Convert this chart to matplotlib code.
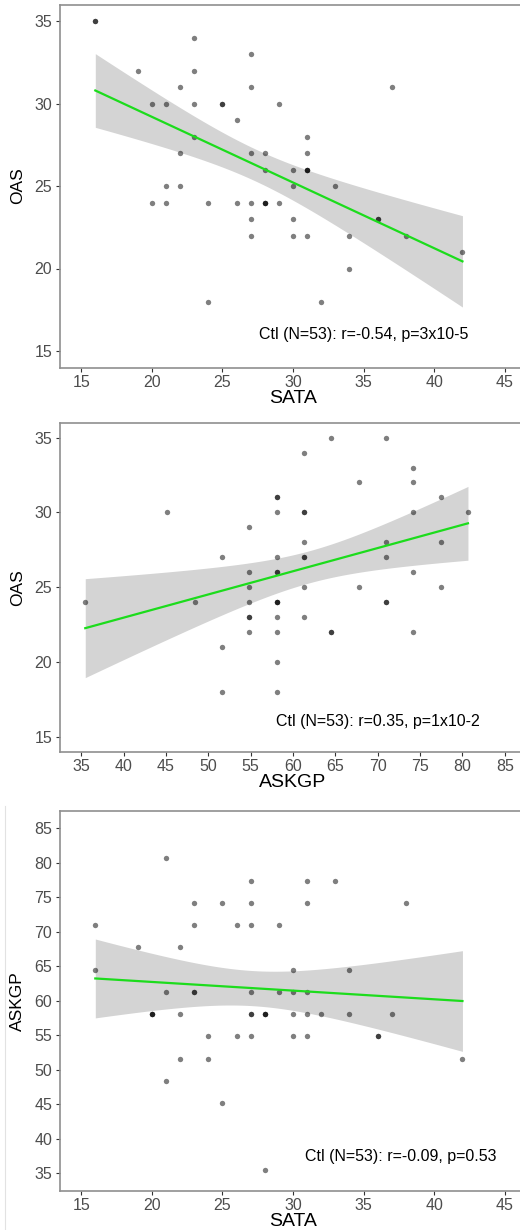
import numpy as np
import matplotlib
matplotlib.use('Agg')
import matplotlib.pyplot as plt
from matplotlib.lines import Line2D

plt.rcParams['font.family'] = ['Liberation Sans', 'DejaVu Sans']

# panel 1: SATA vs OAS
sata_1 = [16, 16, 19, 20, 21, 23, 25, 25, 29, 23, 27, 23, 22, 27, 37, 26,
          23, 31, 22, 27, 28, 31, 28, 30, 31, 31, 31, 21, 22, 30, 33,
          20, 21, 24, 26, 27, 28, 28, 28, 29, 27, 30, 36, 36,
          27, 30, 31, 34, 38, 42, 34, 24, 32]
oas_1 = [35, 35, 32, 30, 30, 30, 30, 30, 30, 34, 33, 32, 31, 31, 31, 29,
         28, 28, 27, 27, 27, 27, 26, 26, 26, 26, 26, 25, 25, 25, 25,
         24, 24, 24, 24, 24, 24, 24, 24, 24, 23, 23, 23, 23,
         22, 22, 22, 22, 22, 21, 20, 18, 18]

# panel 2: ASKGP vs OAS
askgp_2 = [64.52, 70.97, 61.29, 74.19, 67.74, 74.19, 58.06, 58.06, 77.42,
           45.16, 58.06, 61.29, 61.29, 74.19, 80.65, 54.84,
           61.29, 70.97, 77.42, 51.61, 58.06, 61.29, 61.29, 70.97,
           54.84, 58.06, 58.06, 74.19, 54.84, 61.29, 67.74, 77.42,
           35.48, 48.39, 54.84, 58.06, 58.06, 58.06, 70.97, 70.97,
           54.84, 54.84, 58.06, 61.29, 54.84, 58.06, 64.52, 64.52, 74.19,
           51.61, 58.06, 51.61, 58.06]
oas_2 = [35, 35, 34, 33, 32, 32, 31, 31, 31,
         30, 30, 30, 30, 30, 30, 29,
         28, 28, 28, 27, 27, 27, 27, 27,
         26, 26, 26, 26, 25, 25, 25, 25,
         24, 24, 24, 24, 24, 24, 24, 24,
         23, 23, 23, 23, 22, 22, 22, 22, 22,
         21, 20, 18, 18]

# panel 3: SATA vs ASKGP
sata_3 = [21, 27, 31, 33, 23, 25, 27, 31, 38, 16, 23, 26, 27, 29, 19, 22,
          16, 30, 34, 21, 23, 23, 27, 29, 30, 31,
          20, 20, 20, 22, 27, 27, 28, 28, 28, 30, 31, 32, 34, 37,
          24, 26, 27, 30, 31, 36, 36, 22, 24, 42, 21, 25, 28]
askgp_3 = [80.65, 77.42, 77.42, 77.42, 74.19, 74.19, 74.19, 74.19, 74.19,
           70.97, 70.97, 70.97, 70.97, 70.97, 67.74, 67.74,
           64.52, 64.52, 64.52, 61.29, 61.29, 61.29, 61.29, 61.29, 61.29, 61.29,
           58.06, 58.06, 58.06, 58.06, 58.06, 58.06, 58.06, 58.06, 58.06,
           58.06, 58.06, 58.06, 58.06, 58.06,
           54.84, 54.84, 54.84, 54.84, 54.84, 54.84, 54.84,
           51.61, 51.61, 51.61, 48.39, 45.16, 35.48]

panels = [
    (sata_1, oas_1, 'SATA', 'OAS', (15, 45), (15, 35),
     'Ctl (N=53): r=-0.54, p=3x10-5', (35, 16)),
    (askgp_2, oas_2, 'ASKGP', 'OAS', (35, 85), (15, 35),
     'Ctl (N=53): r=0.35, p=1x10-2', (70, 16)),
    (sata_3, askgp_3, 'SATA', 'ASKGP', (15, 45), (35, 85),
     'Ctl (N=53): r=-0.09, p=0.53', (37.6, 37.4)),
]

# axes boxes in pixels: left, top, right, bottom
W, H = 520, 1230
boxes = [(60, 4.5, 526, 367.5), (60, 422.7, 526, 751.6), (60, 811, 526, 1190.6)]

T95 = 2.0076  # t quantile, df = 51

fig = plt.figure(figsize=(W / 100, H / 100), dpi=100)

for (x, y, xl, yl, xr, yr, note, npos), (l, t, r, b) in zip(panels, boxes):
    ax = fig.add_axes([l / W, 1 - b / H, (r - l) / W, (b - t) / H])
    x = np.asarray(x, float)
    y = np.asarray(y, float)

    # lm fit with 95% confidence band
    n = len(x)
    slope, icpt = np.polyfit(x, y, 1)
    resid = y - (slope * x + icpt)
    s = np.sqrt(np.sum(resid ** 2) / (n - 2))
    sxx = np.sum((x - x.mean()) ** 2)
    xs = np.linspace(x.min(), x.max(), 100)
    fit = slope * xs + icpt
    se = s * np.sqrt(1 / n + (xs - x.mean()) ** 2 / sxx)
    ax.fill_between(xs, fit - T95 * se, fit + T95 * se, color='#d4d4d4',
                    lw=0, zorder=1)
    ax.scatter(x, y, s=15, color='black', alpha=0.5, lw=0, zorder=2)
    ax.plot(xs, fit, color='#1cdc1c', lw=1.6, zorder=3)

    ax.text(npos[0], npos[1], note, ha='center', va='center',
            fontsize=11.5, color='black')

    dx = (xr[1] - xr[0]) * 0.05
    dy = (yr[1] - yr[0]) * 0.05
    ax.set_xlim(xr[0] - dx, xr[1] + dx)
    ax.set_ylim(yr[0] - dy, yr[1] + dy)
    ax.set_xticks(np.arange(xr[0], xr[1] + 1, 5))
    ax.set_yticks(np.arange(yr[0], yr[1] + 1, 5))
    ax.tick_params(direction='out', length=3, width=0.8, color='#333333',
                   labelcolor='#4d4d4d', labelsize=11.5, pad=2.5)
    for sp in ax.spines.values():
        sp.set_color('#8f8f8f')
        sp.set_linewidth(1.2)
    ax.set_xlabel(xl, fontsize=14, color='black', labelpad=0)
    ax.set_ylabel(yl, fontsize=12.5, color='black', labelpad=7)

# faint crop edge on the left of the lower panel
fig.add_artist(Line2D([5 / W, 5 / W], [0, 1 - 806 / H], color='#e2e2e2', lw=0.8))

plt.savefig('out.png', dpi=100)
